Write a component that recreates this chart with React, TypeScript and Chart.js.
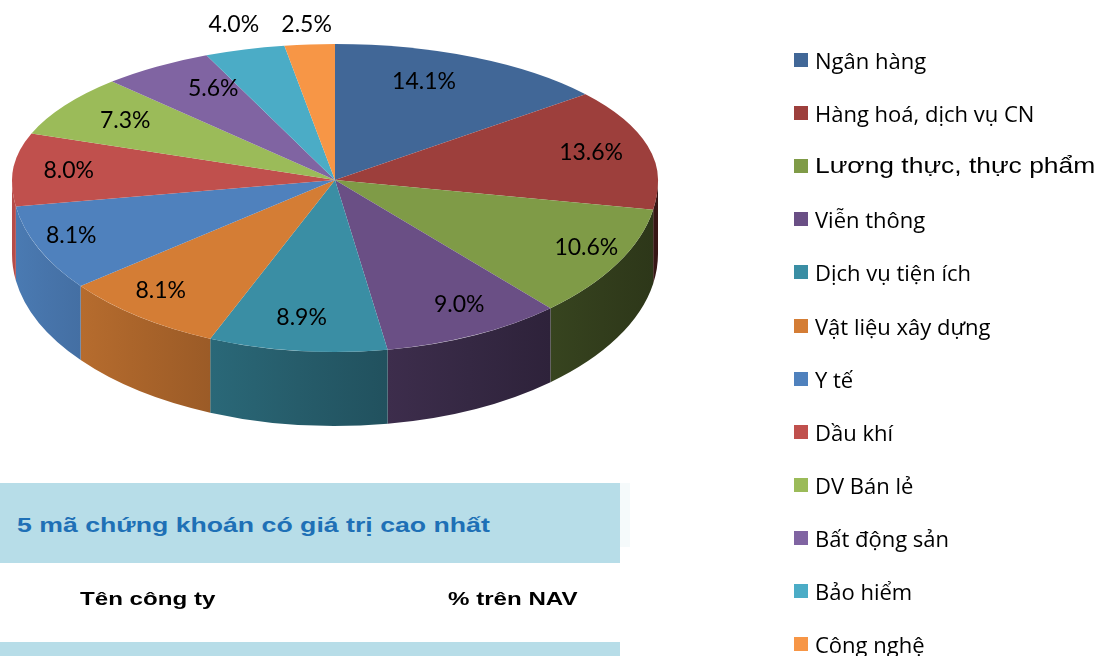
import React, { useEffect, useRef } from "react";
import { Chart, registerables } from "chart.js";

Chart.register(...registerables);

// ---------- data ----------
const sectors = [
  "Ngân hàng",
  "Hàng hoá, dịch vụ CN",
  "Lương thực, thực phẩm",
  "Viễn thông",
  "Dịch vụ tiện ích",
  "Vật liệu xây dựng",
  "Y tế",
  "Dầu khí",
  "DV Bán lẻ",
  "Bất động sản",
  "Bảo hiểm",
  "Công nghệ",
];
const navShare = [14.1, 13.6, 10.6, 9.0, 8.9, 8.1, 8.1, 8.0, 7.3, 5.6, 4.0, 2.5];
const sliceColors = [
  "#416797",
  "#9D3F3C",
  "#7F9B47",
  "#6A4F85",
  "#3A8EA4",
  "#D47D35",
  "#4F81BD",
  "#C0504D",
  "#9BBB59",
  "#8064A2",
  "#4BACC6",
  "#F79646",
];
const tableTitle = "5 mã chứng khoán có giá trị cao nhất";
const tableHeaders = ["Tên công ty", "% trên NAV"];

// ---------- geometry of the 3D look ----------
const W = 1101;
const H = 656;
const CX = 335;
const CY = 180;
const RX = 323;
const RY_FAR = 136;
const RY_NEAR = 172;
const DEPTH = 74;
const LABEL_FONT = 23;

function shade(hex: string, f: number): string {
  const n = parseInt(hex.slice(1), 16);
  const r = Math.round(((n >> 16) & 255) * f);
  const g = Math.round(((n >> 8) & 255) * f);
  const b = Math.round((n & 255) * f);
  return `rgb(${r},${g},${b})`;
}

function wallFactor(x: number): number {
  const t = Math.min(Math.max((x - (CX - RX)) / (2 * RX), 0), 1);
  return 0.95 - 0.6 * Math.pow(t, 0.85);
}

function setFaceTransform(ctx: CanvasRenderingContext2D, arc: any, ry: number) {
  const sx = RX / arc.outerRadius;
  const ky = ry / arc.outerRadius;
  ctx.setTransform(sx, 0, 0, ky, CX - arc.x * sx, CY - arc.y * ky);
}

const pie3d = {
  id: "pie3d",
  beforeDatasetsDraw(chart: any) {
    const ctx: CanvasRenderingContext2D = chart.ctx;
    const arcs = chart.getDatasetMeta(0).data;
    const colors = chart.data.datasets[0].backgroundColor as string[];
    // side walls (front half only)
    arcs.forEach((arc: any, i: number) => {
      const s = Math.max(arc.startAngle, 0);
      const e = Math.min(arc.endAngle, Math.PI);
      if (e <= s) return;
      const xl = CX + RX * Math.cos(e);
      const xr = CX + RX * Math.cos(s);
      const grad = ctx.createLinearGradient(xl, 0, xr, 0);
      grad.addColorStop(0, shade(colors[i], wallFactor(xl)));
      grad.addColorStop(0.5, shade(colors[i], wallFactor((xl + xr) / 2)));
      grad.addColorStop(1, shade(colors[i], wallFactor(xr)));
      ctx.beginPath();
      ctx.ellipse(CX, CY, RX, RY_NEAR, 0, s, e);
      ctx.ellipse(CX, CY + DEPTH, RX, RY_NEAR, 0, e, s, true);
      ctx.closePath();
      ctx.fillStyle = grad;
      ctx.fill();
    });
    // far half of the top face, drawn by the library
    ctx.save();
    ctx.beginPath();
    ctx.rect(0, 0, W, CY);
    ctx.clip();
    setFaceTransform(ctx, arcs[0], RY_FAR);
  },
  afterDatasetsDraw(chart: any) {
    const ctx: CanvasRenderingContext2D = chart.ctx;
    ctx.restore();
    const arcs = chart.getDatasetMeta(0).data;
    // near half of the top face
    ctx.save();
    ctx.beginPath();
    ctx.rect(0, CY, W, H - CY);
    ctx.clip();
    setFaceTransform(ctx, arcs[0], RY_NEAR);
    arcs.forEach((arc: any) => arc.draw(ctx));
    ctx.restore();

    // percentage labels
    const values = chart.data.datasets[0].data as number[];
    ctx.save();
    ctx.font = `${LABEL_FONT}px Lato, "Open Sans", sans-serif`;
    ctx.fillStyle = "#000";
    ctx.textAlign = "center";
    ctx.textBaseline = "alphabetic";
    arcs.forEach((arc: any, i: number) => {
      const m = (arc.startAngle + arc.endAngle) / 2;
      const v = values[i];
      const cs = Math.cos(m);
      const sn = Math.sin(m);
      let x: number;
      let y: number;
      if (v < 5) {
        x = CX + 1.12 * RX * cs;
        y = CY - RY_FAR - 20;
      } else if (sn < 0) {
        const rx = 0.5 + 0.33 * Math.abs(cs);
        x = CX + rx * RX * cs;
        y = CY + 0.81 * RY_FAR * sn;
      } else {
        x = CX + 0.89 * RX * cs;
        y = CY + 0.8 * RY_NEAR * sn;
      }
      ctx.fillText(v.toFixed(1) + "%", x, y + 0.36 * LABEL_FONT);
    });
    ctx.restore();
  },
};

export default function App() {
  const canvasRef = useRef<HTMLCanvasElement | null>(null);

  useEffect(() => {
    const canvas = canvasRef.current;
    if (!canvas) return;
    const chart = new Chart(canvas, {
      type: "pie",
      data: {
        labels: sectors,
        datasets: [
          {
            data: navShare,
            backgroundColor: sliceColors,
            borderWidth: 0,
            hoverOffset: 0,
          },
        ],
      },
      options: {
        responsive: false,
        maintainAspectRatio: false,
        animation: false,
        devicePixelRatio: 1,
        events: [],
        layout: { padding: { left: 12, right: 443, top: 5, bottom: 5 } },
        plugins: {
          legend: { display: false },
          tooltip: { enabled: false },
        },
      },
      plugins: [pie3d],
    } as any);
    return () => chart.destroy();
  }, []);

  const band = "#B7DDE8";

  return (
    <div
      style={{
        position: "fixed",
        left: 0,
        top: 0,
        width: W,
        height: H,
        overflow: "hidden",
        background: "#fff",
      }}
    >
      <canvas
        ref={canvasRef}
        width={W}
        height={H}
        style={{ position: "absolute", left: 0, top: 0, width: W, height: H }}
      />

      {/* legend */}
      {sectors.map((s, i) => (
        <div
          key={s}
          style={{
            position: "absolute",
            left: 794,
            top: 60 + i * 53.1 - 15,
            height: 30,
            display: "flex",
            alignItems: "center",
            whiteSpace: "nowrap",
          }}
        >
          <span
            style={{
              display: "inline-block",
              width: 14,
              height: 14,
              background: sliceColors[i],
              marginRight: 7,
            }}
          />
          <span
            style={{
              display: "inline-block",
              font: i === 2 ? '22px "Liberation Sans", Arial, sans-serif' : '22px "Open Sans", sans-serif',
              lineHeight: "30px",
              color: "#000",
              transform: i === 2 ? "scaleX(1.2)" : undefined,
              transformOrigin: "left center",
            }}
          >
            {s}
          </span>
        </div>
      ))}

      {/* table block */}
      <div style={{ position: "absolute", left: 0, top: 483, width: 620, height: 80, background: band }} />
      <div style={{ position: "absolute", left: 620, top: 483, width: 10, height: 64, background: "#F5FAFB" }} />
      <div
        style={{
          position: "absolute",
          left: 17,
          top: 514,
          font: 'bold 21px "Liberation Sans", Arial, sans-serif',
          lineHeight: "21px",
          color: "#1E70B6",
          whiteSpace: "nowrap",
          transform: "scaleX(1.27)",
          transformOrigin: "left center",
        }}
      >
        {tableTitle}
      </div>
      <div
        style={{
          position: "absolute",
          left: 80,
          top: 589,
          font: 'bold 19px "Liberation Sans", Arial, sans-serif',
          lineHeight: "19px",
          color: "#000",
          whiteSpace: "nowrap",
          transform: "scaleX(1.27)",
          transformOrigin: "left center",
        }}
      >
        {tableHeaders[0]}
      </div>
      <div
        style={{
          position: "absolute",
          left: 448,
          top: 589,
          font: 'bold 19px "Liberation Sans", Arial, sans-serif',
          lineHeight: "19px",
          color: "#000",
          whiteSpace: "nowrap",
          transform: "scaleX(1.27)",
          transformOrigin: "left center",
        }}
      >
        {tableHeaders[1]}
      </div>
      <div style={{ position: "absolute", left: 0, top: 642, width: 620, height: 14, background: band }} />
    </div>
  );
}
